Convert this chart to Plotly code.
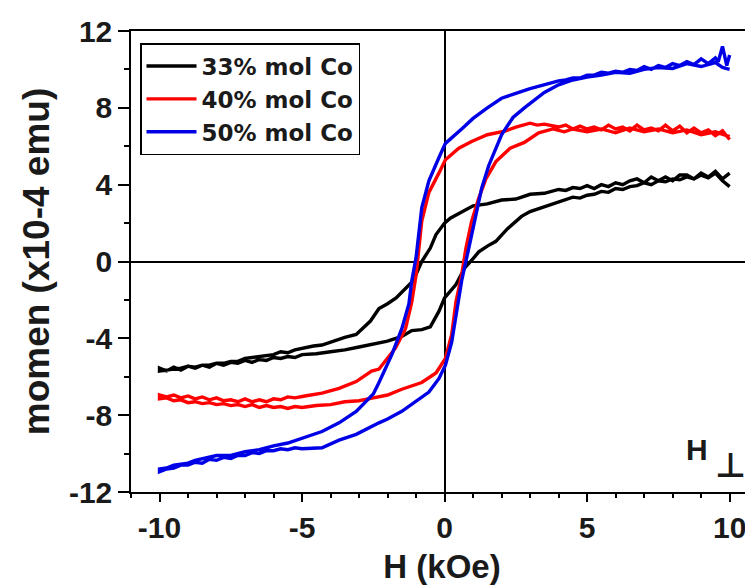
import plotly.graph_objects as go

# ---- data, (H in kOe, moment in 1e-4 emu) ----
series_names = ["33% mol Co", "40% mol Co", "50% mol Co"]
series_colors = ["#000000", "#ff0000", "#0000e6"]

# 33% mol Co
co33_down = [(10, 4.6), (9.75, 4.3), (9.5, 4.7), (9.25, 4.4), (9, 4.6), (8.75, 4.3), (8.5, 4.5), (8.25, 4.5),
             (8, 4.2), (7.75, 4.4), (7.5, 4.2), (7.25, 4.4), (7, 4.1), (6.75, 4.3), (6.5, 4.2), (6.25, 4.0),
             (6, 4.1), (5.75, 3.9), (5.5, 4.0), (5.25, 3.8), (5, 3.95), (4.75, 3.8), (4.5, 3.85), (4.25, 3.7),
             (4, 3.75), (3.5, 3.55), (3, 3.5), (2.5, 3.25), (2, 3.2), (1.5, 3.0), (1, 2.9), (0.5, 2.5),
             (0.2, 2.25), (0, 2.0), (-0.3, 1.4), (-0.5, 0.7), (-0.8, 0.0), (-1.1, -1.0), (-1.4, -1.45),
             (-1.7, -1.9), (-2.0, -2.2), (-2.3, -2.45), (-2.6, -3.1), (-3.1, -3.8), (-3.5, -3.95), (-4.0, -4.2),
             (-4.3, -4.35), (-4.6, -4.4), (-5, -4.55), (-5.25, -4.6), (-5.5, -4.75), (-5.75, -4.7), (-6, -4.85),
             (-6.25, -4.9), (-6.5, -4.95), (-6.75, -5.0), (-7, -5.05), (-7.25, -5.2), (-7.5, -5.2), (-7.75, -5.3),
             (-8, -5.3), (-8.25, -5.4), (-8.5, -5.4), (-8.75, -5.5), (-9, -5.45), (-9.25, -5.55), (-9.5, -5.6),
             (-9.75, -5.65), (-10, -5.7)]
co33_up = [(-10, -5.55), (-9.75, -5.7), (-9.5, -5.5), (-9.25, -5.65), (-9, -5.45), (-8.75, -5.55), (-8.5, -5.4),
           (-8.25, -5.5), (-8, -5.3), (-7.75, -5.4), (-7.5, -5.25), (-7.25, -5.3), (-7, -5.15), (-6.75, -5.25),
           (-6.5, -5.1), (-6.25, -5.15), (-6, -5.0), (-5.75, -5.05), (-5.5, -4.95), (-5.25, -5.0), (-5, -4.85),
           (-4.5, -4.8), (-4, -4.7), (-3.5, -4.6), (-3, -4.45), (-2.5, -4.3), (-2, -4.15), (-1.5, -3.9),
           (-1.15, -3.6), (-0.8, -3.55), (-0.5, -3.4), (-0.2, -2.6), (0, -1.9), (0.4, -1.2), (0.7, -0.35),
           (1.0, 0.15), (1.2, 0.5), (1.5, 0.8), (1.8, 1.05), (2.2, 1.7), (2.7, 2.35), (3.0, 2.6), (3.5, 2.85),
           (4.0, 3.1), (4.25, 3.2), (4.5, 3.35), (4.75, 3.3), (5, 3.45), (5.25, 3.5), (5.5, 3.65), (5.75, 3.6),
           (6, 3.8), (6.25, 3.75), (6.5, 3.9), (6.75, 3.95), (7, 4.1), (7.25, 4.0), (7.5, 4.2), (7.75, 4.15),
           (8, 4.3), (8.25, 4.25), (8.5, 4.4), (8.75, 4.3), (9, 4.5), (9.25, 4.35), (9.5, 4.6), (9.75, 4.2),
           (10, 3.9)]

# 40% mol Co
co40_down = [(10, 6.35), (9.75, 6.8), (9.5, 6.55), (9.25, 6.85), (9, 6.7), (8.75, 6.95), (8.5, 6.7), (8.25, 7.05),
             (8, 6.8), (7.75, 7.1), (7.5, 6.8), (7.25, 6.95), (7, 6.85), (6.75, 7.1), (6.5, 6.8), (6.25, 7.0),
             (6, 6.9), (5.75, 7.1), (5.5, 6.85), (5.25, 7.0), (5, 6.9), (4.75, 7.05), (4.5, 6.9), (4.25, 7.1),
             (4, 7.0), (3.5, 7.15), (3.25, 7.1), (3, 7.2), (2.5, 7.0), (2.15, 6.8), (1.5, 6.6), (0.95, 6.25),
             (0.5, 5.9), (0.03, 5.3), (-0.2, 4.6), (-0.55, 3.6), (-0.8, 2.1), (-0.9, 0.7), (-1.0, -0.7),
             (-1.15, -2.1), (-1.37, -3.5), (-1.72, -4.5), (-2.07, -5.2), (-2.3, -5.6), (-2.56, -5.7),
             (-3.1, -6.25), (-3.7, -6.6), (-4.3, -6.85), (-4.9, -7.0), (-5.25, -7.1), (-5.5, -7.05),
             (-5.75, -7.2), (-6, -7.15), (-6.25, -7.3), (-6.5, -7.2), (-6.75, -7.3), (-7, -7.15), (-7.25, -7.3),
             (-7.5, -7.2), (-7.75, -7.25), (-8, -7.1), (-8.25, -7.2), (-8.5, -7.05), (-8.75, -7.15), (-9, -7.0),
             (-9.25, -7.1), (-9.5, -6.95), (-9.75, -7.05), (-10, -6.95)]
co40_up = [(-10, -7.15), (-9.75, -7.1), (-9.5, -7.25), (-9.25, -7.2), (-9, -7.35), (-8.75, -7.3), (-8.5, -7.4),
           (-8.25, -7.35), (-8, -7.45), (-7.75, -7.4), (-7.5, -7.5), (-7.25, -7.45), (-7, -7.55), (-6.75, -7.45),
           (-6.5, -7.6), (-6.25, -7.5), (-6, -7.6), (-5.75, -7.55), (-5.5, -7.65), (-5.25, -7.55), (-5, -7.6),
           (-4.5, -7.5), (-4, -7.45), (-3.5, -7.3), (-3, -7.25), (-2.5, -7.1), (-2, -6.95), (-1.5, -6.65),
           (-0.8, -6.3), (-0.3, -5.8), (0.03, -5.05), (0.25, -3.8), (0.4, -2.1), (0.6, -0.7), (0.75, 0.7),
           (0.95, 2.1), (1.2, 3.3), (1.45, 4.3), (1.8, 5.2), (2.3, 5.9), (2.8, 6.2), (3.3, 6.7), (3.8, 6.9),
           (4.2, 6.75), (4.5, 6.9), (5, 6.75), (5.5, 6.9), (6, 6.7), (6.5, 6.95), (7, 6.75), (7.5, 6.9),
           (8, 6.7), (8.5, 6.85), (9, 6.6), (9.5, 6.75), (10, 6.5)]

# 50% mol Co
co50_down = [(10, 10.75), (9.9, 10.2), (9.75, 11.2), (9.6, 10.4), (9.5, 10.6), (9.25, 10.3), (9, 10.55),
             (8.75, 10.25), (8.5, 10.4), (8.25, 10.2), (8, 10.3), (7.75, 10.1), (7.5, 10.2), (7.25, 10.0),
             (7, 10.15), (6.75, 9.95), (6.5, 10.0), (6.25, 9.85), (6, 9.9), (5.75, 9.8), (5.5, 9.85), (5.25, 9.7),
             (5, 9.7), (4.75, 9.55), (4.5, 9.55), (4.25, 9.45), (4, 9.4), (3.5, 9.2), (3, 9.0), (2.5, 8.75),
             (2, 8.5), (1.5, 8.0), (1, 7.45), (0.6, 6.9), (0.03, 6.15), (-0.2, 5.4), (-0.55, 4.2), (-0.8, 2.8),
             (-0.9, 1.6), (-1.0, 0.2), (-1.15, -1.0), (-1.25, -2.2), (-1.5, -3.5), (-1.85, -4.85), (-2.3, -6.3),
             (-2.5, -6.9), (-3.1, -7.8), (-3.7, -8.4), (-4.3, -8.85), (-5, -9.2), (-5.5, -9.45), (-6, -9.6),
             (-6.5, -9.8), (-7, -9.9), (-7.5, -10.1), (-8, -10.1), (-8.4, -10.25), (-8.75, -10.35), (-9, -10.5),
             (-9.25, -10.55), (-9.5, -10.6), (-9.75, -10.75), (-10, -10.8)]
co50_up = [(-10, -10.95), (-9.75, -10.8), (-9.5, -10.75), (-9.25, -10.6), (-9, -10.6), (-8.75, -10.45),
           (-8.5, -10.5), (-8.25, -10.3), (-8, -10.35), (-7.75, -10.2), (-7.5, -10.25), (-7.25, -10.1),
           (-7, -10.1), (-6.75, -9.95), (-6.5, -10.0), (-6.25, -9.85), (-6, -9.85), (-5.75, -9.75), (-5.5, -9.8),
           (-5.25, -9.7), (-5, -9.75), (-4.3, -9.7), (-3.7, -9.3), (-3.1, -9.0), (-2.3, -8.4), (-2, -8.2),
           (-1.5, -7.8), (-1.15, -7.45), (-0.55, -6.8), (-0.2, -6.1), (0.03, -5.4), (0.25, -4.2), (0.4, -2.8),
           (0.6, -1.0), (0.85, 0.7), (1.1, 2.4), (1.3, 3.8), (1.55, 5.0), (2.0, 6.6), (2.4, 7.5), (2.8, 8.0),
           (3.5, 8.8), (4, 9.2), (4.5, 9.45), (5, 9.6), (5.5, 9.7), (6, 9.85), (6.5, 9.8), (7, 10.0),
           (7.5, 10.1), (8, 10.05), (8.5, 10.3), (9, 10.15), (9.5, 10.35), (9.75, 10.1), (10, 10.0)]

x_tick_vals = [-10, -5, 0, 5, 10]
x_tick_text = ["-10", "-5", "0", "5", "10"]
y_tick_vals = [-12, -8, -4, 0, 4, 8, 12]
y_tick_text = ["-12", "-8", "-4", "0", "4", "8", "12"]
x_title = "H (kOe)"
y_title = "momen (x10-4 emu)"
field_label = "H"
field_symbol = "⊥"

# ---- figure ----
FONT = "Arial, 'Liberation Sans', sans-serif"
TXT = "#1a1a1a"
loops = [co33_down + co33_up, co40_down + co40_up, co50_down + co50_up]

# page has an 8px body margin; plot area is meant to sit at x 131..753, y 31..492 on the page
PAGE_OFF = 8
W, H = 753 - PAGE_OFF, 588 - PAGE_OFF
ML, MT, MB = 131 - PAGE_OFF, 31 - PAGE_OFF, 96
PW = W - ML

fig = go.Figure()
for name, color, pts in zip(series_names, series_colors, loops):
    fig.add_trace(go.Scatter(x=[p[0] for p in pts], y=[p[1] for p in pts], mode="lines", name=name,
                             line=dict(color=color, width=3.4)))

axis_common = dict(
    showgrid=False, showline=True, linecolor="black", linewidth=1.5,
    ticks="outside", tickwidth=1.5, tickcolor="black", automargin=False,
    zeroline=True, zerolinecolor="black", zerolinewidth=1.5,
    tickfont=dict(family=FONT, size=30, color=TXT, weight="bold"),
)
fig.update_xaxes(**axis_common, mirror=True, ticklen=8, range=[-11.0, 10.82],
                 tickvals=x_tick_vals, ticktext=x_tick_text,
                 minor=dict(dtick=1, ticklen=4, tickwidth=1.5, tickcolor="black", ticks="outside"),
                 title=dict(text=x_title, font=dict(family=FONT, size=33, color=TXT, weight="bold"),
                            standoff=12))
fig.update_yaxes(**axis_common, mirror=False, ticklen=11, range=[-12, 12],
                 tickvals=y_tick_vals, ticktext=y_tick_text,
                 minor=dict(dtick=2, ticklen=5, tickwidth=1.5, tickcolor="black", ticks="outside"),
                 title=dict(text=y_title, font=dict(family=FONT, size=37, color=TXT, weight="bold"),
                            standoff=8))

fig.add_annotation(xref="paper", x=(697 - 131) / PW, xanchor="center", yref="y", y=-9.8, yanchor="middle",
                   text=field_label, showarrow=False,
                   font=dict(family=FONT, size=30, color=TXT, weight="bold"))
fig.add_annotation(xref="paper", x=(730 - 131) / PW, xanchor="center", yref="y", y=-10.6, yanchor="middle",
                   text=field_symbol, showarrow=False,
                   font=dict(family="DejaVu Sans", size=34, color=TXT, weight="bold"))

fig.update_layout(
    width=W, height=H,
    margin=dict(l=ML, r=0, t=MT, b=MB, autoexpand=False),
    paper_bgcolor="white", plot_bgcolor="white",
    showlegend=True,
    legend=dict(x=(140 - 131) / PW, y=(492 - 43) / 461, xanchor="left", yanchor="top",
                bordercolor="black", borderwidth=1.5, bgcolor="white",
                font=dict(family="DejaVu Sans", size=23, color=TXT, weight="bold"),
                itemwidth=50, tracegroupgap=0),
)

fig.write_html("out.html")
